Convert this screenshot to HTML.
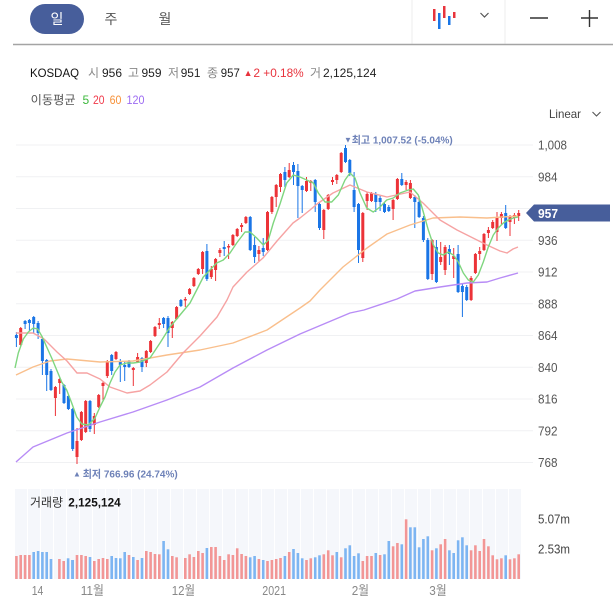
<!DOCTYPE html>
<html><head><meta charset="utf-8"><style>
html,body{margin:0;padding:0;background:#fff;}
svg{display:block;}
text{font-family:"Liberation Sans","Noto Sans CJK KR",sans-serif;}
</style></head><body>
<svg width="613" height="611" viewBox="0 0 613 611" xmlns="http://www.w3.org/2000/svg">
<defs>
<pattern id="st" x="15" y="0" width="13" height="10" patternUnits="userSpaceOnUse">
<rect x="0" y="0" width="13" height="10" fill="#f5f7fb"/><rect x="12" y="0" width="1" height="10" fill="#ffffff"/>
</pattern>
</defs>
<!-- header -->
<rect x="30" y="4" width="54" height="30" rx="15" fill="#475e9b"/>
<text x="57" y="24" font-size="14" fill="#fff" text-anchor="middle">일</text>
<text x="111" y="24" font-size="14" fill="#555" text-anchor="middle">주</text>
<text x="165" y="24" font-size="14" fill="#555" text-anchor="middle">월</text>
<line x1="412" y1="0" x2="412" y2="44" stroke="#eeeeee"/>
<line x1="505" y1="0" x2="505" y2="44" stroke="#eeeeee"/>
<rect x="433" y="9" width="2.5" height="12" fill="#e8343c"/>
<rect x="438" y="13" width="2.5" height="16" fill="#1a75e6"/>
<rect x="443" y="6" width="2.5" height="12" fill="#e8343c"/>
<rect x="448" y="16" width="2.5" height="9" fill="#1a75e6"/>
<rect x="453" y="12" width="2.5" height="6" fill="#e8343c"/>
<polyline points="480.5,13 484.5,17 488.5,13" fill="none" stroke="#555" stroke-width="1.2"/>
<line x1="530" y1="18" x2="548" y2="18" stroke="#333" stroke-width="1.4"/>
<line x1="581" y1="18" x2="598" y2="18" stroke="#333" stroke-width="1.4"/>
<line x1="589.5" y1="10" x2="589.5" y2="27" stroke="#333" stroke-width="1.4"/>
<line x1="13" y1="44.5" x2="613" y2="44.5" stroke="#a4a4a4" stroke-width="1.5"/>
<!-- info line -->
<text x="30" y="77" font-size="12" fill="#111" textLength="49" lengthAdjust="spacingAndGlyphs">KOSDAQ</text>
<text x="88" y="77" font-size="12" fill="#888">시</text>
<text x="102" y="77" font-size="12" fill="#222" textLength="20" lengthAdjust="spacingAndGlyphs">956</text>
<text x="128" y="77" font-size="12" fill="#888">고</text>
<text x="141.5" y="77" font-size="12" fill="#222" textLength="20" lengthAdjust="spacingAndGlyphs">959</text>
<text x="168" y="77" font-size="12" fill="#888">저</text>
<text x="180.7" y="77" font-size="12" fill="#222" textLength="19.7" lengthAdjust="spacingAndGlyphs">951</text>
<text x="207" y="77" font-size="12" fill="#888">종</text>
<text x="220.8" y="77" font-size="12" fill="#222" textLength="19" lengthAdjust="spacingAndGlyphs">957</text>
<text x="243.6" y="76" font-size="9" fill="#e8323c">▲</text>
<text x="253.4" y="77" font-size="12" fill="#e8323c">2</text>
<text x="263.3" y="77" font-size="12" fill="#e8323c" textLength="40.4" lengthAdjust="spacingAndGlyphs">+0.18%</text>
<text x="310" y="77" font-size="12" fill="#888">거</text>
<text x="323" y="77" font-size="12" fill="#222" textLength="53.4" lengthAdjust="spacingAndGlyphs">2,125,124</text>
<text x="30.6" y="104" font-size="12" fill="#555" textLength="45" lengthAdjust="spacingAndGlyphs">이동평균</text>
<text x="82.5" y="104" font-size="12" fill="#3cb83c">5</text>
<text x="93" y="104" font-size="12" fill="#f0394a" textLength="11.5" lengthAdjust="spacingAndGlyphs">20</text>
<text x="109.6" y="104" font-size="12" fill="#f7923a" textLength="11.8" lengthAdjust="spacingAndGlyphs">60</text>
<text x="126.5" y="104" font-size="12" fill="#9d6cf2" textLength="18" lengthAdjust="spacingAndGlyphs">120</text>
<text x="549" y="118" font-size="12" fill="#444" textLength="32" lengthAdjust="spacingAndGlyphs">Linear</text>
<polyline points="592.5,112 596.5,116 600.5,112" fill="none" stroke="#555" stroke-width="1.1"/>
<!-- grid -->
<g stroke="#f0f1f3" stroke-width="1">
<line x1="16" y1="145" x2="533" y2="145"/>
<line x1="16" y1="176.75" x2="533" y2="176.75"/>
<line x1="16" y1="208.5" x2="533" y2="208.5"/>
<line x1="16" y1="240.25" x2="533" y2="240.25"/>
<line x1="16" y1="272" x2="533" y2="272"/>
<line x1="16" y1="303.75" x2="533" y2="303.75"/>
<line x1="16" y1="335.5" x2="533" y2="335.5"/>
<line x1="16" y1="367.25" x2="533" y2="367.25"/>
<line x1="16" y1="399" x2="533" y2="399"/>
<line x1="16" y1="430.75" x2="533" y2="430.75"/>
<line x1="16" y1="462.5" x2="533" y2="462.5"/>
</g>
<!-- y labels -->
<g font-size="12.5" fill="#555">
<text x="538" y="149.5" textLength="29" lengthAdjust="spacingAndGlyphs">1,008</text>
<text x="538" y="181.3" textLength="19.5" lengthAdjust="spacingAndGlyphs">984</text>
<text x="538" y="244.8" textLength="19.5" lengthAdjust="spacingAndGlyphs">936</text>
<text x="538" y="276.5" textLength="19.5" lengthAdjust="spacingAndGlyphs">912</text>
<text x="538" y="308.3" textLength="19.5" lengthAdjust="spacingAndGlyphs">888</text>
<text x="538" y="340" textLength="19.5" lengthAdjust="spacingAndGlyphs">864</text>
<text x="538" y="371.8" textLength="19.5" lengthAdjust="spacingAndGlyphs">840</text>
<text x="538" y="403.5" textLength="19.5" lengthAdjust="spacingAndGlyphs">816</text>
<text x="538" y="435.3" textLength="19.5" lengthAdjust="spacingAndGlyphs">792</text>
<text x="538" y="467" textLength="19.5" lengthAdjust="spacingAndGlyphs">768</text>
</g>
<path d="M526,213 L534,204.5 H610 V221.5 H534 Z" fill="#475e9b"/>
<text x="538" y="217.8" font-size="13" font-weight="bold" fill="#fff" textLength="20" lengthAdjust="spacingAndGlyphs">957</text>
<!-- red candles -->
<g stroke="#ec3338" stroke-width="1" fill="#ec3338">
<path d="M20.7 327V346M55.4 386V416M59.7 378V394M77 428V464M81.4 411V441M85.7 400V433M94.3 413V434M98.7 394V408M103 381V401M107.3 360V378M116 351V360M133.3 367V386M137.6 353V363M146.3 350V367M150.6 340V353M155 326V337M159.3 318V329M172.3 321V338M176.6 306V320M185.3 297V307M189.6 288V295M193.9 277V287M198.3 268V275M202.6 251V274M211.3 266V279M215.6 258V281M219.9 248V257M228.6 244V259M232.9 234V246M237.2 228V237M241.6 223V232M245.9 216V224M258.9 246V261M267.5 211V251M271.9 196V214M276.2 184V207M280.5 173V192M289.2 163V178M306.5 177V192M310.8 180V191M323.8 209V239M328.2 194V210M332.5 177V185M336.8 174V184M341.2 152V173M362.8 212V262M367.1 192V210M371.5 192V202M393.1 199V220M397.4 178V200M406.1 180V190M410.4 180V199M432.1 239V280M440.7 242V265M445.1 245V275M453.7 248V278M471.1 276V301M475.4 253V274M479.7 247V260M484 233V251M488.4 227V238M492.7 220V229M497 212V241M501.4 212V225M510 215V236M514.4 213V224M518.7 210V221"/>
</g>
<g fill="#ec3338">
<rect x="19.2" y="328" width="3" height="17"/><rect x="53.9" y="387" width="3" height="11"/><rect x="58.2" y="379" width="3" height="4"/><rect x="75.5" y="441" width="3" height="16"/><rect x="79.9" y="412" width="3" height="28"/><rect x="84.2" y="401" width="3" height="31"/><rect x="92.8" y="416" width="3" height="9"/><rect x="97.2" y="395" width="3" height="12"/><rect x="101.5" y="383" width="3" height="3"/><rect x="105.8" y="361" width="3" height="15"/><rect x="114.5" y="352" width="3" height="7"/><rect x="131.8" y="368" width="3" height="2"/><rect x="136.1" y="357" width="3" height="5"/><rect x="144.8" y="351" width="3" height="12"/><rect x="149.1" y="341" width="3" height="11"/><rect x="153.5" y="327" width="3" height="9"/><rect x="157.8" y="323" width="3" height="2"/><rect x="170.8" y="322" width="3" height="6"/><rect x="175.1" y="307" width="3" height="12"/><rect x="183.8" y="299" width="3" height="1.5"/><rect x="188.1" y="289" width="3" height="5"/><rect x="192.4" y="278" width="3" height="8"/><rect x="196.8" y="269" width="3" height="5"/><rect x="201.1" y="252" width="3" height="17"/><rect x="209.8" y="269" width="3" height="8"/><rect x="214.1" y="259" width="3" height="11"/><rect x="218.4" y="250" width="3" height="3"/><rect x="227.1" y="246" width="3" height="1.5"/><rect x="231.4" y="235" width="3" height="10"/><rect x="235.7" y="229" width="3" height="7"/><rect x="240.1" y="225" width="3" height="2"/><rect x="244.4" y="217" width="3" height="6"/><rect x="257.4" y="250" width="3" height="4"/><rect x="266" y="212" width="3" height="38"/><rect x="270.4" y="197" width="3" height="15"/><rect x="274.7" y="185" width="3" height="12"/><rect x="279" y="174" width="3" height="13"/><rect x="287.7" y="170" width="3" height="7"/><rect x="305" y="181" width="3" height="10"/><rect x="309.3" y="181" width="3" height="2"/><rect x="322.3" y="210" width="3" height="20"/><rect x="326.7" y="195" width="3" height="14"/><rect x="331" y="180" width="3" height="2"/><rect x="335.3" y="175" width="3" height="5"/><rect x="339.7" y="153" width="3" height="19"/><rect x="361.3" y="213" width="3" height="45"/><rect x="365.6" y="194" width="3" height="7"/><rect x="370" y="193" width="3" height="8"/><rect x="391.6" y="200" width="3" height="9"/><rect x="395.9" y="179" width="3" height="20"/><rect x="404.6" y="182" width="3" height="3"/><rect x="408.9" y="183" width="3" height="15"/><rect x="430.6" y="240" width="3" height="34"/><rect x="439.2" y="257" width="3" height="5"/><rect x="443.6" y="247" width="3" height="23"/><rect x="452.2" y="256" width="3" height="3"/><rect x="469.6" y="278" width="3" height="22"/><rect x="473.9" y="254" width="3" height="19"/><rect x="478.2" y="251" width="3" height="3"/><rect x="482.5" y="234" width="3" height="16"/><rect x="486.9" y="230" width="3" height="3"/><rect x="491.2" y="222" width="3" height="6"/><rect x="495.5" y="218" width="3" height="14"/><rect x="499.9" y="214" width="3" height="4"/><rect x="508.5" y="217" width="3" height="5"/><rect x="512.9" y="215" width="3" height="3"/><rect x="517.2" y="213" width="3" height="3"/>
</g>
<!-- blue candles -->
<g stroke="#1a75e6" stroke-width="1" fill="none">
<path d="M16.4 332V347M25.1 320V329M29.4 319V331M33.7 316V333M38.1 321V339M42.4 338V375M46.7 359V391M51 369V391M64 384V404M68.4 395V410M72.7 408V451M90 400V432M111.7 354V375M120.3 359V382M124.7 361V381M129 360V368M142 357V372M163.6 317V328M168 316V347M180.9 299V307M206.9 244V281M224.2 241V256M250.2 216V251M254.6 237V263M263.2 238V256M284.9 167V187M293.5 162V185M297.9 164V218M302.2 185V213M315.2 179V212M319.5 203V230M345.5 145V163M349.8 159V176M354.1 172V212M358.5 203V263M375.8 192V212M380.1 196V211M384.5 203V213M388.8 205V212M401.8 173V186M414.8 195V228M419.1 196V218M423.4 216V242M427.8 238V280M436.4 240V283M449.4 245V265M458.1 245V293M462.4 283V317M466.7 285V301M505.7 205V229"/>
</g>
<g fill="#1a75e6">
<rect x="14.9" y="335" width="3" height="3"/><rect x="23.6" y="321" width="3" height="3"/><rect x="27.9" y="320" width="3" height="3"/><rect x="32.2" y="317" width="3" height="7"/><rect x="36.6" y="323" width="3" height="10"/><rect x="40.9" y="339" width="3" height="22"/><rect x="45.2" y="360" width="3" height="15"/><rect x="49.5" y="371" width="3" height="19"/><rect x="62.5" y="385" width="3" height="18"/><rect x="66.9" y="396" width="3" height="13"/><rect x="71.2" y="409" width="3" height="40"/><rect x="88.5" y="401" width="3" height="28"/><rect x="110.2" y="355" width="3" height="16"/><rect x="118.8" y="361" width="3" height="4"/><rect x="123.2" y="365" width="3" height="2"/><rect x="127.5" y="361" width="3" height="6"/><rect x="140.5" y="358" width="3" height="9"/><rect x="162.1" y="318" width="3" height="6"/><rect x="166.5" y="318" width="3" height="15"/><rect x="179.4" y="300" width="3" height="6"/><rect x="205.4" y="251" width="3" height="28"/><rect x="222.7" y="247" width="3" height="2"/><rect x="248.7" y="217" width="3" height="33"/><rect x="253.1" y="245" width="3" height="12"/><rect x="261.7" y="248" width="3" height="4"/><rect x="283.4" y="172" width="3" height="8"/><rect x="292" y="165" width="3" height="7"/><rect x="296.4" y="171" width="3" height="15"/><rect x="300.7" y="186" width="3" height="4"/><rect x="313.7" y="180" width="3" height="22"/><rect x="318" y="204" width="3" height="24"/><rect x="344" y="148" width="3" height="14"/><rect x="348.3" y="160" width="3" height="13"/><rect x="352.6" y="190" width="3" height="17"/><rect x="357" y="204" width="3" height="46"/><rect x="374.3" y="194" width="3" height="8"/><rect x="378.6" y="198" width="3" height="4"/><rect x="383" y="204" width="3" height="8"/><rect x="387.3" y="207" width="3" height="4"/><rect x="400.3" y="179" width="3" height="6"/><rect x="413.3" y="197" width="3" height="5"/><rect x="417.6" y="202" width="3" height="15"/><rect x="421.9" y="218" width="3" height="22"/><rect x="426.3" y="240" width="3" height="39"/><rect x="434.9" y="247" width="3" height="35"/><rect x="447.9" y="249" width="3" height="5"/><rect x="456.6" y="254" width="3" height="38"/><rect x="460.9" y="286" width="3" height="6"/><rect x="465.2" y="287" width="3" height="13"/><rect x="504.2" y="213" width="3" height="15"/>
</g>
<!-- moving averages -->
<g fill="none" stroke-width="1.4" stroke-linejoin="round">
<polyline stroke="#b88cf6" points="16,462 33,447 67,433 100,422 133,412 167,400 200,387 233,368 267,350 300,334 350,313 364,310 397,299 415,291 440,287 467,283 487,282 500,278 518,273"/>
<polyline stroke="#f9bf8c" points="16,375 33,367 50,361 67,359 100,362 133,361 167,355 200,350 233,343 267,330 300,308 310,301 320,290 343,267 367,248 387,234 410,225 433,218 460,217 487,218 518,216"/>
<polyline stroke="#f6a3a3" points="16,333 33,333 44,339 57,352 67,361 77,373 87,373 100,379 110,387 127,393 140,391 150,385 167,372 183,353 200,336 217,317 227,300 233,287 247,272 263,258 277,241 293,223 300,218 310,210 317,204 333,193 350,185 367,192 387,197 410,192 423,203 440,220 457,230 473,238 487,245 500,251 507,253 513,249 518,247"/>
<polyline stroke="#7fd67f" points="15,368 18.3,353 23.3,339 28.3,332 33.3,328 37.7,329 42.3,337 46.7,347 51.7,358 56.7,370 61.7,382 66.7,390 71.7,403 76.7,417 81.7,424 88.3,425 95,418 100,407 105,397 110,383 115,372 120,365 126.7,363 133.3,363 140,362 150,358 160,343 170,327 180,315 190,303 196.7,290 203.3,277 210,270 216.7,263 223.3,260 230,253 236.7,243 245,232 250,232 256.7,238 263.3,245 268.3,240 273.3,223 280,204 286.7,183 293.3,175 300,177 306.7,180 313.3,183 318.3,193 325,202 331.7,202 338.3,195 345,180 350,173 355,178 360,193 366.7,208 373.3,212 380,207 386.7,200 393.3,198 400,193 408.3,190 413.3,189 418.3,195 423.3,212 428.3,230 433.3,245 438.3,253 443.3,255 448.3,252 453.3,255 458.3,262 463.3,273 468.3,280 473.3,282 478.3,275 483.3,262 488.3,247 493.3,235 498.3,228 503.3,223 508.3,220 513.3,218 518.3,217"/>
</g>
<!-- hi/lo annotations -->
<text x="344" y="142.5" font-size="8" fill="#6e82b8">▼</text>
<text x="351.7" y="143.5" font-size="10.5" font-weight="bold" fill="#6e82b8" textLength="101" lengthAdjust="spacingAndGlyphs">최고 1,007.52 (-5.04%)</text>
<text x="73" y="476.5" font-size="8" fill="#6e82b8">▲</text>
<text x="82.7" y="477.5" font-size="10.5" font-weight="bold" fill="#6e82b8" textLength="95" lengthAdjust="spacingAndGlyphs">최저 766.96 (24.74%)</text>
<!-- volume pane -->
<rect x="15" y="489" width="506" height="90" fill="url(#st)"/>
<text x="30" y="506.5" font-size="12" fill="#333" textLength="33" lengthAdjust="spacingAndGlyphs">거래량</text>
<text x="68.3" y="506.5" font-size="12" font-weight="bold" fill="#111" textLength="52.4" lengthAdjust="spacingAndGlyphs">2,125,124</text>
<g fill="#f29696">
<rect x="15.1" y="556" width="2.6" height="23"/><rect x="19.4" y="555" width="2.6" height="24"/><rect x="23.8" y="555" width="2.6" height="24"/><rect x="28.1" y="555" width="2.6" height="24"/><rect x="58.1" y="559" width="2.6" height="20"/><rect x="62.4" y="561" width="2.6" height="18"/><rect x="75.7" y="555" width="2.6" height="24"/><rect x="80.1" y="555" width="2.6" height="24"/><rect x="84.4" y="556" width="2.6" height="23"/><rect x="93" y="561" width="2.6" height="18"/><rect x="97.4" y="559" width="2.6" height="20"/><rect x="101.7" y="558" width="2.6" height="21"/><rect x="106" y="559" width="2.6" height="20"/><rect x="127.7" y="555" width="2.6" height="24"/><rect x="136.3" y="560" width="2.6" height="19"/><rect x="145" y="551" width="2.6" height="28"/><rect x="149.3" y="552" width="2.6" height="27"/><rect x="153.7" y="554" width="2.6" height="25"/><rect x="158" y="554.3" width="2.6" height="24.7"/><rect x="171" y="556" width="2.6" height="23"/><rect x="175.3" y="557.3" width="2.6" height="21.7"/><rect x="184" y="558" width="2.6" height="21"/><rect x="188.3" y="554.3" width="2.6" height="24.7"/><rect x="192.6" y="557" width="2.6" height="22"/><rect x="197" y="551" width="2.6" height="28"/><rect x="201.3" y="553" width="2.6" height="26"/><rect x="210" y="547" width="2.6" height="32"/><rect x="214.3" y="547" width="2.6" height="32"/><rect x="218.6" y="556" width="2.6" height="23"/><rect x="222.9" y="560" width="2.6" height="19"/><rect x="227.3" y="554.3" width="2.6" height="24.7"/><rect x="231.6" y="555" width="2.6" height="24"/><rect x="235.9" y="548.3" width="2.6" height="30.7"/><rect x="240.3" y="554" width="2.6" height="25"/><rect x="244.6" y="556" width="2.6" height="23"/><rect x="257.6" y="559" width="2.6" height="20"/><rect x="266.2" y="561" width="2.6" height="18"/><rect x="270.6" y="560" width="2.6" height="19"/><rect x="274.9" y="559" width="2.6" height="20"/><rect x="279.2" y="558" width="2.6" height="21"/><rect x="287.9" y="552" width="2.6" height="27"/><rect x="305.2" y="560" width="2.6" height="19"/><rect x="309.5" y="558.3" width="2.6" height="20.7"/><rect x="322.5" y="554.3" width="2.6" height="24.7"/><rect x="326.9" y="550.3" width="2.6" height="28.7"/><rect x="331.2" y="555.3" width="2.6" height="23.7"/><rect x="339.9" y="557.3" width="2.6" height="21.7"/><rect x="361.5" y="561" width="2.6" height="18"/><rect x="365.8" y="556" width="2.6" height="23"/><rect x="370.2" y="556" width="2.6" height="23"/><rect x="378.8" y="555" width="2.6" height="24"/><rect x="391.8" y="546.3" width="2.6" height="32.7"/><rect x="396.1" y="543" width="2.6" height="36"/><rect x="404.8" y="519.3" width="2.6" height="59.7"/><rect x="430.8" y="550.3" width="2.6" height="28.7"/><rect x="439.4" y="544.3" width="2.6" height="34.7"/><rect x="443.8" y="539" width="2.6" height="40"/><rect x="469.8" y="550.3" width="2.6" height="28.7"/><rect x="474.1" y="545.3" width="2.6" height="33.7"/><rect x="478.4" y="551" width="2.6" height="28"/><rect x="482.7" y="539" width="2.6" height="40"/><rect x="487.1" y="546.3" width="2.6" height="32.7"/><rect x="491.4" y="555.3" width="2.6" height="23.7"/><rect x="495.7" y="559.3" width="2.6" height="19.7"/><rect x="500.1" y="558.3" width="2.6" height="20.7"/><rect x="508.7" y="559.3" width="2.6" height="19.7"/><rect x="513.1" y="558.3" width="2.6" height="20.7"/><rect x="517.4" y="554.3" width="2.6" height="24.7"/>
</g>
<g fill="#7db5f2">
<rect x="32.4" y="552" width="2.6" height="27"/><rect x="36.8" y="551" width="2.6" height="28"/><rect x="41.1" y="552" width="2.6" height="27"/><rect x="45.4" y="552" width="2.6" height="27"/><rect x="49.7" y="559" width="2.6" height="20"/><rect x="66.8" y="558.3" width="2.6" height="20.7"/><rect x="71.1" y="560" width="2.6" height="19"/><rect x="71.4" y="560" width="2.6" height="19"/><rect x="88.7" y="557" width="2.6" height="22"/><rect x="110.4" y="556" width="2.6" height="23"/><rect x="114.7" y="558" width="2.6" height="21"/><rect x="119" y="558.3" width="2.6" height="20.7"/><rect x="123.4" y="552" width="2.6" height="27"/><rect x="132" y="557" width="2.6" height="22"/><rect x="140.7" y="558" width="2.6" height="21"/><rect x="162.3" y="541" width="2.6" height="38"/><rect x="166.7" y="549.3" width="2.6" height="29.7"/><rect x="205.6" y="548" width="2.6" height="31"/><rect x="248.9" y="557.3" width="2.6" height="21.7"/><rect x="253.3" y="556" width="2.6" height="23"/><rect x="261.9" y="560" width="2.6" height="19"/><rect x="283.6" y="556" width="2.6" height="23"/><rect x="292.2" y="549" width="2.6" height="30"/><rect x="296.6" y="553" width="2.6" height="26"/><rect x="300.9" y="558.3" width="2.6" height="20.7"/><rect x="313.9" y="557.3" width="2.6" height="21.7"/><rect x="318.2" y="555.3" width="2.6" height="23.7"/><rect x="335.5" y="552" width="2.6" height="27"/><rect x="344.2" y="548.3" width="2.6" height="30.7"/><rect x="348.5" y="545.3" width="2.6" height="33.7"/><rect x="352.8" y="556" width="2.6" height="23"/><rect x="357.2" y="553.3" width="2.6" height="25.7"/><rect x="374.5" y="553" width="2.6" height="26"/><rect x="383.2" y="554.3" width="2.6" height="24.7"/><rect x="387.5" y="541" width="2.6" height="38"/><rect x="400.5" y="544.3" width="2.6" height="34.7"/><rect x="409.1" y="527.3" width="2.6" height="51.7"/><rect x="413.5" y="527.3" width="2.6" height="51.7"/><rect x="417.8" y="547.3" width="2.6" height="31.7"/><rect x="422.1" y="539" width="2.6" height="40"/><rect x="426.5" y="536.3" width="2.6" height="42.7"/><rect x="435.1" y="548.3" width="2.6" height="30.7"/><rect x="448.1" y="550.3" width="2.6" height="28.7"/><rect x="452.4" y="553" width="2.6" height="26"/><rect x="456.8" y="540.3" width="2.6" height="38.7"/><rect x="461.1" y="537.3" width="2.6" height="41.7"/><rect x="465.4" y="545.3" width="2.6" height="33.7"/><rect x="504.4" y="555.3" width="2.6" height="23.7"/>
</g>
<g font-size="12.5" fill="#444">
<text x="538" y="523.5" textLength="32" lengthAdjust="spacingAndGlyphs">5.07m</text>
<text x="538" y="553.5" textLength="32" lengthAdjust="spacingAndGlyphs">2.53m</text>
</g>
<!-- x axis labels -->
<g font-size="13" fill="#888">
<text x="31.7" y="595" textLength="11.6" lengthAdjust="spacingAndGlyphs">14</text>
<text x="80.7" y="595" textLength="23.3" lengthAdjust="spacingAndGlyphs">11월</text>
<text x="171.7" y="595" textLength="23.3" lengthAdjust="spacingAndGlyphs">12월</text>
<text x="262.3" y="595" textLength="23.7" lengthAdjust="spacingAndGlyphs">2021</text>
<text x="351.7" y="595" textLength="17.3" lengthAdjust="spacingAndGlyphs">2월</text>
<text x="429.3" y="595" textLength="17.4" lengthAdjust="spacingAndGlyphs">3월</text>
</g>
</svg>
</body></html>
